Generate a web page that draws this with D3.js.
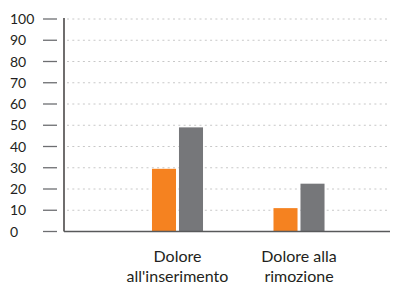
<!DOCTYPE html>
<html><head><meta charset="utf-8">
<script src="https://cdn.jsdelivr.net/npm/d3@7/dist/d3.min.js"></script>
<style>body{margin:0;background:#fff}svg{display:block}</style>
</head><body>
<script>
const categories = [["Dolore","all'inserimento"],["Dolore alla","rimozione"]];
const series1 = [29.5, 11];
const series2 = [49, 22.5];
const yTicks = [0,10,20,30,40,50,60,70,80,90,100];
const colors = ["#F58220", "#76777A"];

const W = 399, H = 283;
const svg = d3.select("body").append("svg").attr("width", W).attr("height", H);
const font = "Lato, 'Open Sans', sans-serif";

const y = d3.scaleLinear().domain([0,100]).range([231.5, 19]);
const x0 = d3.scaleBand().domain(d3.range(categories.length)).range([64, 412.5]).paddingInner(0.58).paddingOuter(0.724);
const x1 = d3.scaleBand().domain([0,1]).range([0, x0.bandwidth()]).paddingInner(0.11);

// gridlines
svg.append("g").selectAll("line").data(yTicks.filter(d=>d>0)).join("line")
  .attr("x1", 67).attr("x2", 390).attr("y1", d=>y(d)).attr("y2", d=>y(d))
  .attr("stroke", "#c8c8c8").attr("stroke-width", 1).attr("stroke-dasharray", "2,3.3");

// ticks
svg.append("g").selectAll("line").data(yTicks).join("line")
  .attr("x1", 43).attr("x2", 57).attr("y1", d=>y(d)).attr("y2", d=>y(d))
  .attr("stroke", "#6d6e71").attr("stroke-width", 1.3);
svg.append("g").selectAll("text").data(yTicks).join("text")
  .attr("x", 10).attr("y", d=>y(d)).attr("dy", "0.36em")
  .attr("font-family", font).attr("font-size", 14).attr("fill", "#231f20")
  .text(d=>d);

// bars
const groups = svg.append("g").selectAll("g").data(categories.map((c,i)=>i)).join("g")
  .attr("transform", i=>`translate(${x0(i)},0)`);
groups.selectAll("rect").data(i=>[series1[i], series2[i]]).join("rect")
  .attr("x", (d,j)=>x1(j)).attr("width", x1.bandwidth())
  .attr("y", d=>y(d)).attr("height", d=>y(0)-y(d))
  .attr("fill", (d,j)=>colors[j]);

// axes lines
svg.append("line").attr("x1", 64).attr("x2", 64).attr("y1", y(100)-1).attr("y2", y(0))
  .attr("stroke", "#231f20").attr("stroke-width", 1.3);
svg.append("line").attr("x1", 64).attr("x2", 390).attr("y1", y(0)).attr("y2", y(0))
  .attr("stroke", "#58595b").attr("stroke-width", 1.5);

// category labels
const lab = svg.append("g").selectAll("text").data(categories).join("text")
  .attr("text-anchor", "middle").attr("font-family", font).attr("font-size", 16).attr("fill", "#231f20")
  .attr("transform", (d,i)=>`translate(${x0(i)+x0.bandwidth()/2},0)`);
lab.selectAll("tspan").data(d=>d).join("tspan")
  .attr("x", 0).attr("y", (d,k)=>261.5 + k*20.5).text(d=>d);
</script>
</body></html>
